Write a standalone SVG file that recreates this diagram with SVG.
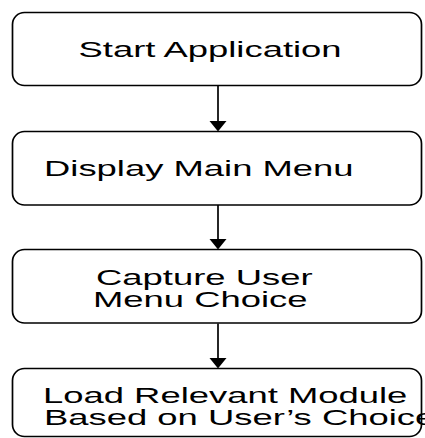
<svg xmlns="http://www.w3.org/2000/svg" width="425" height="438" viewBox="0 0 425 438">
  <style>
    .box { fill: #ffffff; stroke: #000000; stroke-width: 1.7; }
    .lbl { font-family: "Liberation Sans", Arial, sans-serif; font-size: 22px; fill: #000000; }
    .edge { stroke: #000000; stroke-width: 1.7; fill: none; }
    .head { fill: #000000; }
  </style>
  <rect width="425" height="438" fill="#ffffff"/>

  <g id="connectors">
    <line class="edge" x1="218" y1="86" x2="218" y2="123"/>
    <polygon class="head" points="209.5,121 226.5,121 218,131.5"/>
    <line class="edge" x1="218" y1="205" x2="218" y2="241"/>
    <polygon class="head" points="209.5,239 226.5,239 218,249.5"/>
    <line class="edge" x1="218" y1="323.5" x2="218" y2="360"/>
    <polygon class="head" points="209.5,358 226.5,358 218,368.5"/>
  </g>

  <g id="start-application">
    <rect class="box" x="12.5" y="12.5" width="409" height="73" rx="12" ry="12"/>
    <text class="lbl" transform="translate(78.5,57) scale(1.655,1)">Start Application</text>
  </g>

  <g id="display-main-menu">
    <rect class="box" x="12.5" y="131.5" width="409" height="73.5" rx="12" ry="12"/>
    <text class="lbl" transform="translate(44,176) scale(1.655,1)">Display Main Menu</text>
  </g>

  <g id="capture-user-choice">
    <rect class="box" x="12.5" y="249.5" width="409" height="73.5" rx="12" ry="12"/>
    <text class="lbl" transform="translate(96,285) scale(1.655,1)">Capture User</text>
    <text class="lbl" transform="translate(93,307) scale(1.655,1)">Menu Choice</text>
  </g>

  <g id="load-module">
    <rect class="box" x="12.5" y="368.5" width="409" height="68" rx="12" ry="12"/>
    <text class="lbl" transform="translate(43,402.5) scale(1.655,1)">Load Relevant Module</text>
    <text class="lbl" transform="translate(44,424.5) scale(1.655,1)">Based on User’s Choice</text>
  </g>
</svg>
